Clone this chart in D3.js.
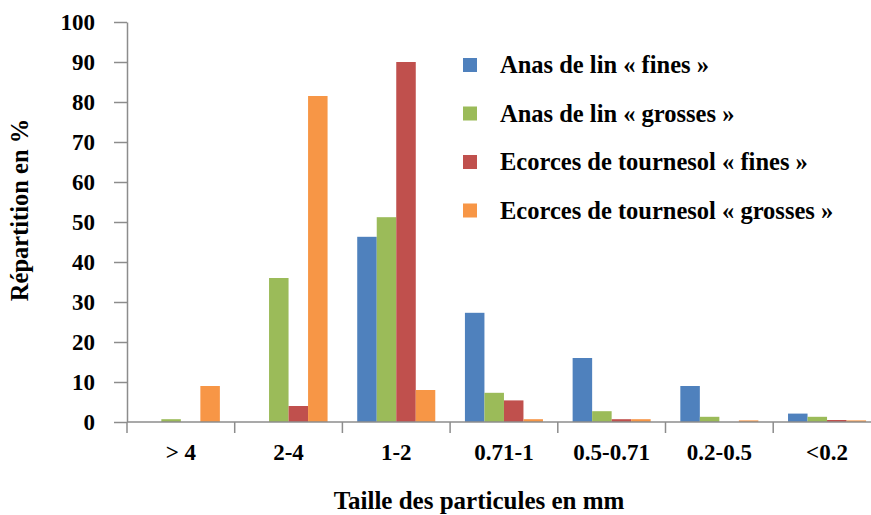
<!DOCTYPE html>
<html>
<head>
<meta charset="utf-8">
<script src="https://cdn.jsdelivr.net/npm/d3@7"></script>
<style>
  body { margin: 0; background: #fff; }
</style>
</head>
<body>
<div id="chart"></div>
<script>
// data
var categories = ["> 4", "2-4", "1-2", "0.71-1", "0.5-0.71", "0.2-0.5", "<0.2"];
var seriesNames = ["Anas de lin « fines »", "Anas de lin « grosses »",
    "Ecorces de tournesol « fines »", "Ecorces de tournesol « grosses »"];
var colors = ["#4F81BD", "#9BBB59", "#C0504D", "#F79646"];
var linFines = [0, 0, 46.3, 27.3, 16, 9, 2.1];
var linGrosses = [0.7, 36, 51.2, 7.3, 2.7, 1.3, 1.3];
var tournesolFines = [0, 4, 90, 5.4, 0.7, 0, 0.5];
var tournesolGrosses = [9, 81.5, 8, 0.7, 0.7, 0.4, 0.4];
var yTicks = [0, 10, 20, 30, 40, 50, 60, 70, 80, 90, 100];

var seriesValues = [linFines, linGrosses, tournesolFines, tournesolGrosses];
var serif = "'Liberation Serif', 'Times New Roman', 'DejaVu Serif', serif";

var width = 871, height = 515;
var svg = d3.select("#chart").append("svg")
    .attr("width", width)
    .attr("height", height)
    .style("font-family", serif);

var x0 = d3.scaleBand()
    .domain(categories)
    .range([127, 127 + 7 * 107.7])
    .padding(0);

var x1 = d3.scaleBand()
    .domain(seriesNames)
    .range([0, x0.bandwidth()])
    .paddingInner(0)
    .paddingOuter(0.76);

var y = d3.scaleLinear()
    .domain([0, 100])
    .range([422, 22]);

// bars
var groups = svg.selectAll(".group")
    .data(categories)
    .enter()
    .append("g")
    .attr("class", "group")
    .attr("transform", function (d) { return "translate(" + x0(d) + ",0)"; });

groups.selectAll("rect")
    .data(function (c, ci) {
        return seriesNames.map(function (s, si) {
            return {series: s, idx: si, value: seriesValues[si][ci]};
        });
    })
    .enter()
    .append("rect")
    .filter(function (d) { return d.value > 0; })
    .attr("x", function (d) { return x1(d.series); })
    .attr("width", x1.bandwidth())
    .attr("y", function (d) { return y(d.value); })
    .attr("height", function (d) { return y(0) - y(d.value); })
    .attr("fill", function (d) { return colors[d.idx]; });

// y axis
var yAxis = svg.append("g")
    .attr("transform", "translate(127,0)")
    .call(d3.axisLeft(y).tickValues(yTicks).tickSize(13).tickSizeOuter(0).tickPadding(19));
yAxis.attr("font-family", null);
yAxis.select(".domain").attr("stroke", "#8c8c8c").attr("stroke-width", 1.5);
yAxis.selectAll(".tick line").attr("stroke", "#8c8c8c").attr("stroke-width", 1.5);
yAxis.selectAll(".tick text")
    .style("font-family", serif)
    .style("font-weight", "bold")
    .style("font-size", "23px")
    .attr("fill", "#000");

// x axis line and boundary ticks
svg.append("line")
    .attr("x1", 127).attr("x2", x0.range()[1])
    .attr("y1", y(0)).attr("y2", y(0))
    .attr("stroke", "#8c8c8c").attr("stroke-width", 1.5);

var bounds = categories.map(function (c) { return x0(c); }).concat([x0.range()[1]]);
svg.selectAll(".xtick")
    .data(bounds)
    .enter()
    .append("line")
    .attr("class", "xtick")
    .attr("x1", function (d) { return d; }).attr("x2", function (d) { return d; })
    .attr("y1", y(0)).attr("y2", y(0) + 11)
    .attr("stroke", "#8c8c8c").attr("stroke-width", 1.5);

svg.selectAll(".xlabel")
    .data(categories)
    .enter()
    .append("text")
    .attr("class", "xlabel")
    .attr("x", function (d) { return x0(d) + x0.bandwidth() / 2; })
    .attr("y", 460)
    .attr("text-anchor", "middle")
    .style("font-family", serif)
    .style("font-weight", "bold")
    .style("font-size", "23px")
    .text(function (d) { return d; });

// axis titles
svg.append("text")
    .attr("x", 479)
    .attr("y", 509)
    .attr("text-anchor", "middle")
    .style("font-family", serif)
    .style("font-weight", "bold")
    .style("font-size", "25px")
    .text("Taille des particules en mm");

svg.append("text")
    .attr("transform", "translate(28,210) rotate(-90)")
    .attr("text-anchor", "middle")
    .style("font-family", serif)
    .style("font-weight", "bold")
    .style("font-size", "24.5px")
    .text("Répartition en %");

// legend
var legend = svg.selectAll(".legend")
    .data(seriesNames)
    .enter()
    .append("g")
    .attr("class", "legend")
    .attr("transform", function (d, i) { return "translate(463," + (58 + i * 48.5) + ")"; });

legend.append("rect")
    .attr("width", 14)
    .attr("height", 14)
    .attr("fill", function (d, i) { return colors[i]; });

legend.append("text")
    .attr("x", 37)
    .attr("y", 15)
    .style("font-family", serif)
    .style("font-weight", "bold")
    .style("font-size", "24.5px")
    .text(function (d) { return d; });
</script>
</body>
</html>
